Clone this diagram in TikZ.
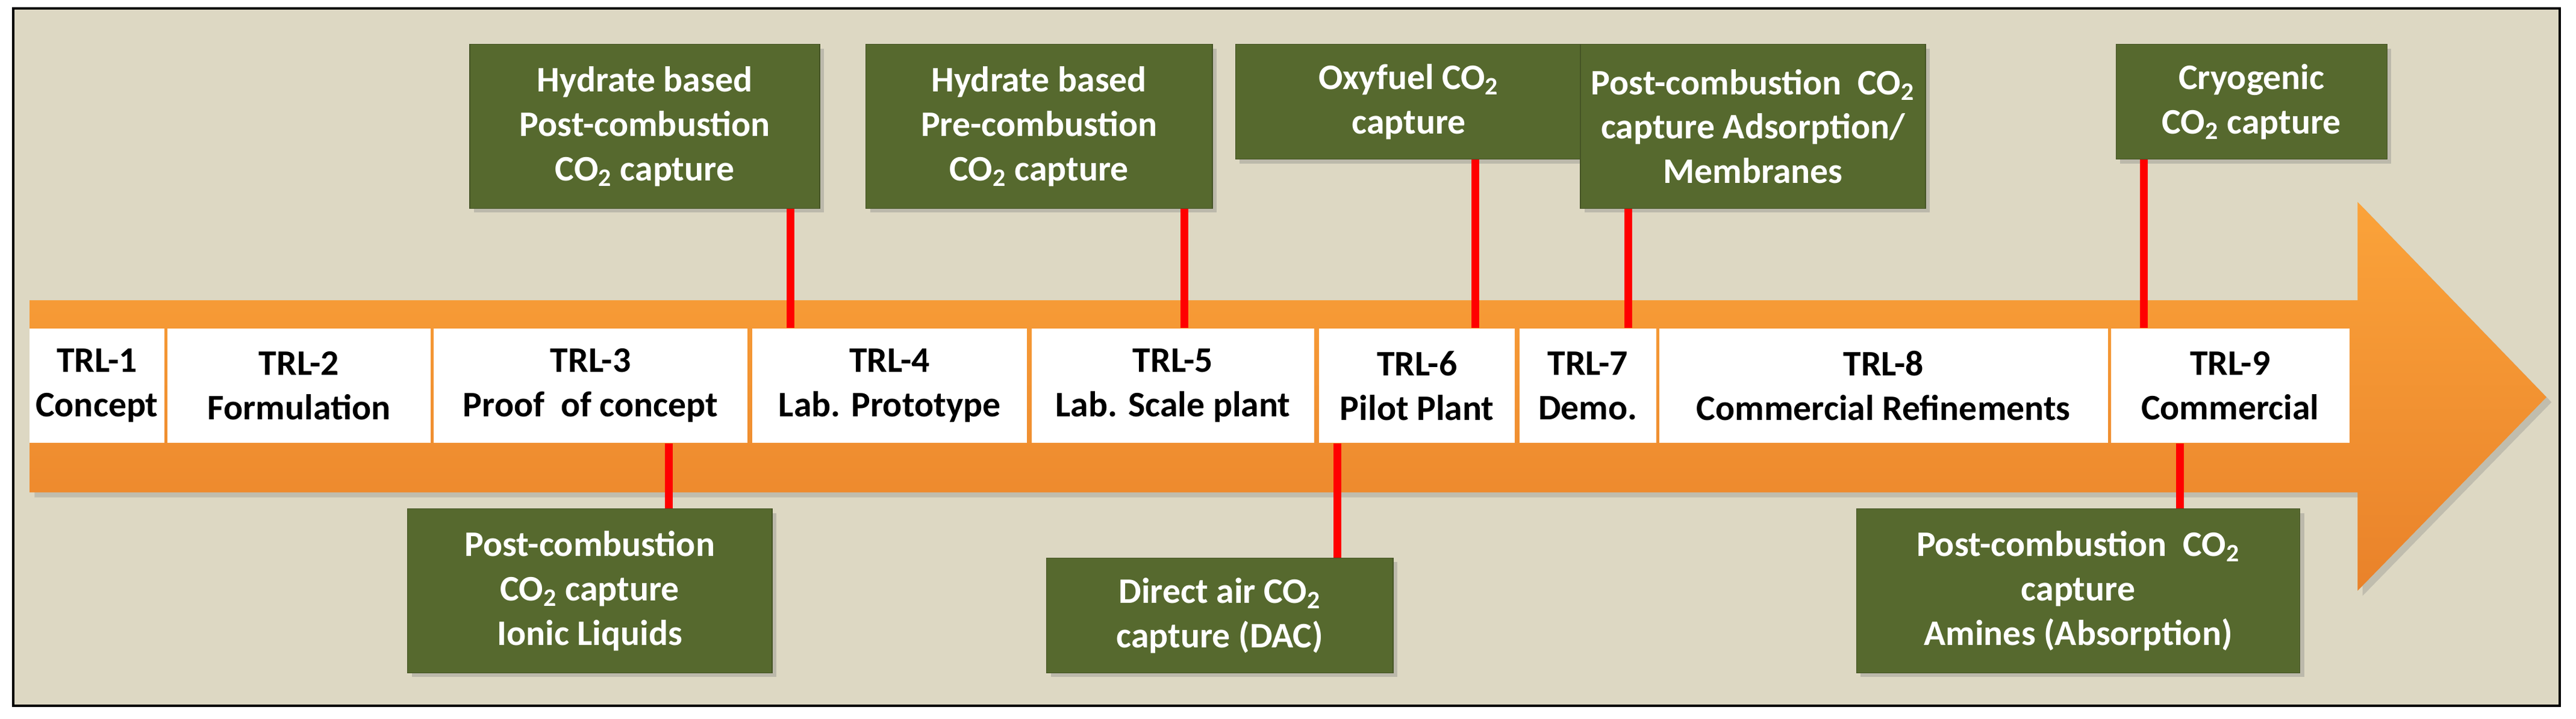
\documentclass[tikz,border=0pt]{standalone}
\usepackage{fontspec}
\setmainfont{Carlito}
\usetikzlibrary{shadows}
\definecolor{bg}{HTML}{DDD8C3}
\definecolor{grn}{HTML}{56692E}
\definecolor{orT}{HTML}{FBA33A}
\definecolor{orB}{HTML}{E9822A}
\def\U{0.02728cm}
\newcommand\cotwo{CO\textsubscript{2}}
\begin{document}
\begin{tikzpicture}[x=0.02728cm,y=-0.02728cm,
  cell/.style={fill=white,inner sep=0pt,minimum height=70*\U,align=center,font=\fontsize{17}{21}\selectfont\bfseries},
  gbox/.style={fill=grn,draw=grn!80!black,inner sep=0pt,align=center,text=white,drop shadow={opacity=0.35,shadow xshift=2pt,shadow yshift=-2pt},font=\fontsize{17}{21}\selectfont\bfseries},
  link/.style={red,line width=3.7pt}]
\useasboundingbox (0,0) rectangle (1568,438);
\draw[fill=bg,line width=1.2pt] (8,5) rectangle (1558,430);
\shade[top color=orT,bottom color=orB,drop shadow={opacity=0.3}] (18,183) -- (1435,183) -- (1435,123) -- (1550,242) -- (1435,360) -- (1435,300) -- (18,300) -- cycle;
\node[cell,minimum width=82*\U] (c1) at (59,235) {TRL-1\\Concept};
\node[cell,minimum width=160*\U] (c2) at (182,235) {TRL-2\\Formulation};
\node[cell,minimum width=191*\U] (c3) at (359.5,235) {TRL-3\\Proof~ of concept};
\node[cell,minimum width=167*\U] (c4) at (541.5,235) {TRL-4\\Lab. Prototype};
\node[cell,minimum width=172*\U] (c5) at (714,235) {TRL-5\\Lab. Scale plant};
\node[cell,minimum width=119*\U] (c6) at (862.5,235) {TRL-6\\Pilot Plant};
\node[cell,minimum width=83*\U] (c7) at (966.5,235) {TRL-7\\Demo.};
\node[cell,minimum width=273*\U] (c8) at (1146.5,235) {TRL-8\\Commercial Refinements};
\node[cell,minimum width=145*\U] (c9) at (1357.5,235) {TRL-9\\Commercial};
\node[gbox,minimum width=213*\U,minimum height=100*\U] (b1) at (392.5,77) {Hydrate based\\Post-combustion\\\cotwo{} capture};
\node[gbox,minimum width=211*\U,minimum height=100*\U] (b2) at (632.5,77) {Hydrate based\\Pre-combustion\\\cotwo{} capture};
\node[gbox,minimum width=211*\U,minimum height=70*\U] (b3) at (857.5,62) {Oxyfuel \cotwo\\capture};
\node[gbox,minimum width=210*\U,minimum height=100*\U] (b4) at (1067,77) {Post-combustion~ \cotwo\\capture Adsorption/\\Membranes};
\node[gbox,minimum width=165*\U,minimum height=70*\U] (b5) at (1370.5,62) {Cryogenic\\\cotwo{} capture};
\node[gbox,minimum width=222*\U,minimum height=100*\U] (d1) at (359,360) {Post-combustion\\\cotwo{} capture\\Ionic Liquids};
\node[gbox,minimum width=211*\U,minimum height=70*\U] (d2) at (742.5,375) {Direct air \cotwo\\capture (DAC)};
\node[gbox,minimum width=270*\U,minimum height=100*\U] (d3) at (1265,360) {Post-combustion~ \cotwo\\capture\\Amines (Absorption)};
\draw[link] ([xshift=88.5*\U]b1.south) -- ([xshift=88.5*\U]b1.south |- c4.north);
\draw[link] ([xshift=88.5*\U]b2.south) -- ([xshift=88.5*\U]b2.south |- c5.north);
\draw[link] ([xshift=40.5*\U]b3.south) -- ([xshift=40.5*\U]b3.south |- c6.north);
\draw[link] ([xshift=-76*\U]b4.south) -- ([xshift=-76*\U]b4.south |- c7.north);
\draw[link] ([xshift=-65.5*\U]b5.south) -- ([xshift=-65.5*\U]b5.south |- c9.north);
\draw[link] ([xshift=48*\U]d1.north) -- ([xshift=48*\U]d1.north |- c3.south);
\draw[link] ([xshift=71.5*\U]d2.north) -- ([xshift=71.5*\U]d2.north |- c6.south);
\draw[link] ([xshift=62*\U]d3.north) -- ([xshift=62*\U]d3.north |- c9.south);
\end{tikzpicture}
\end{document}
